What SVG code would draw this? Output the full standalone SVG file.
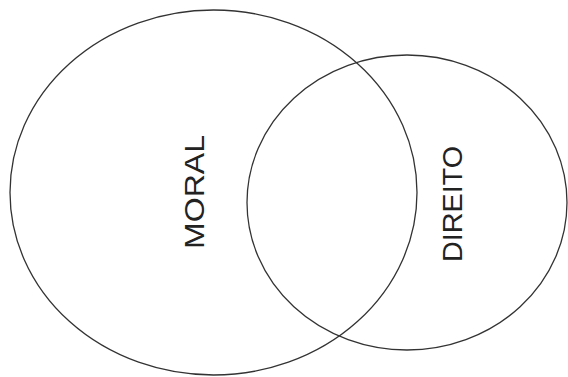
<svg xmlns="http://www.w3.org/2000/svg" width="568" height="377" viewBox="0 0 568 377">
<style>
.set{fill:none;stroke:#333;stroke-width:1.3}
.lbl{font-family:"Liberation Sans",Arial,sans-serif;font-size:28px;fill:#222;text-anchor:middle}
</style>
<rect width="568" height="377" fill="#fff"/>
<g id="moral">
<ellipse class="set" cx="213.5" cy="192.5" rx="203.5" ry="182.5"/>
<text class="lbl" transform="translate(204,192) rotate(-90)" textLength="114" lengthAdjust="spacingAndGlyphs">MORAL</text>
</g>
<g id="direito">
<ellipse class="set" cx="407" cy="202.5" rx="160" ry="147.5"/>
<text class="lbl" transform="translate(462,204) rotate(-90)" textLength="116" lengthAdjust="spacingAndGlyphs">DIREITO</text>
</g>
<g id="connectors"/>
</svg>
